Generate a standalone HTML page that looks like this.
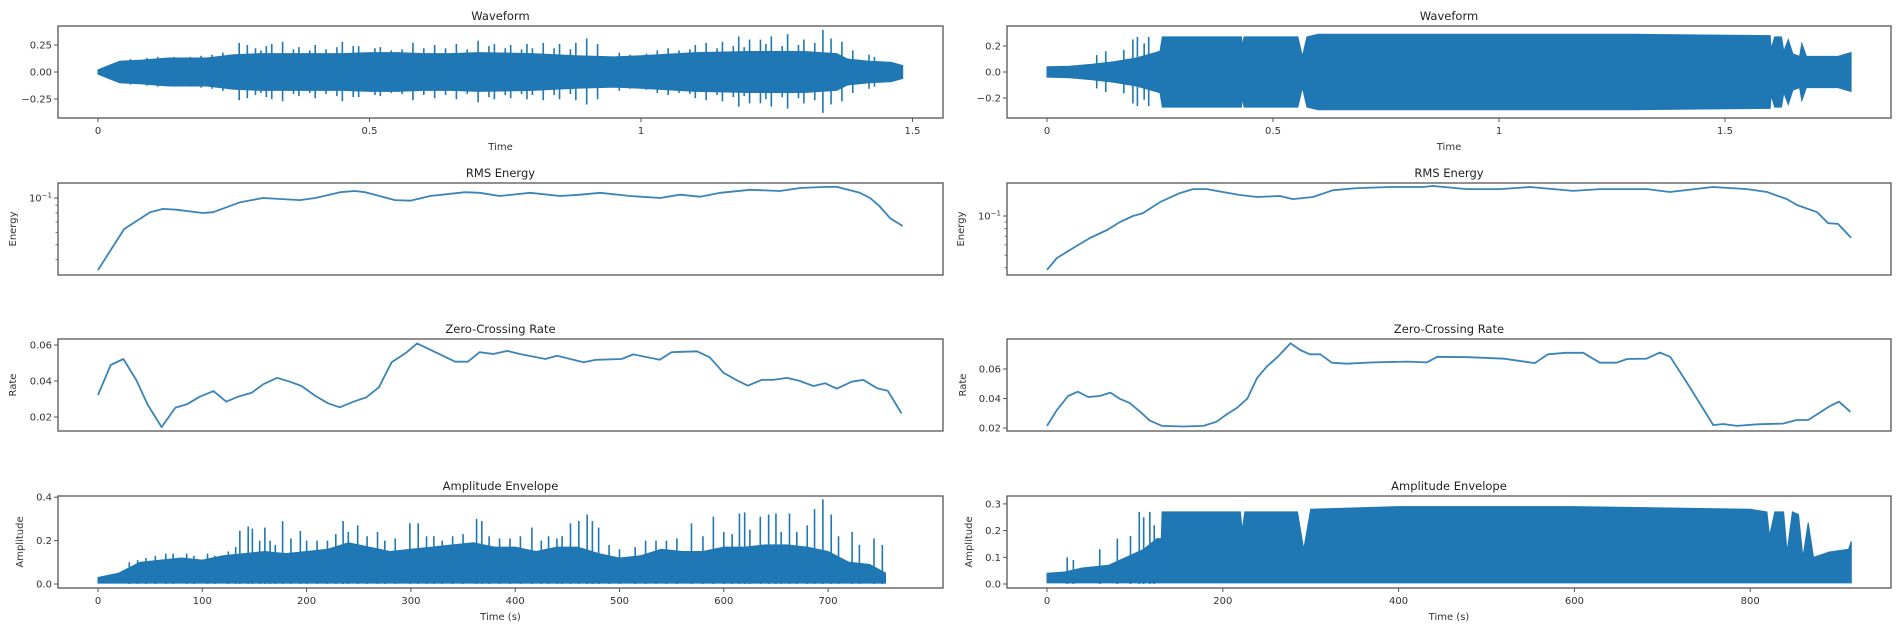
<!DOCTYPE html>
<html><head><meta charset="utf-8">
<style>
html,body{margin:0;padding:0;background:#fff;}
svg{display:block;font-family:"DejaVu Sans","Liberation Sans",sans-serif;}
</style></head>
<body>
<svg id="chart" width="1902" height="633" viewBox="0 0 1902 633" xmlns="http://www.w3.org/2000/svg"></svg>
<script>
// ---------- DATA ----------
const lwBodyT=[0,.02,.04,.08,.13,.2,.25,.3,.35,.4,.45,.5,.55,.6,.65,.7,.8,.88,.95,1.0,1.1,1.2,1.3,1.36,1.38,1.42,1.46,1.482];
const lwBodyV=[.02,.06,.1,.11,.13,.13,.16,.17,.17,.17,.17,.18,.18,.17,.17,.18,.17,.15,.14,.15,.18,.19,.19,.17,.12,.1,.09,.06];
const lwSpikeT=[.26,.275,.29,.31,.34,.37,.40,.45,.48,.52,.58,.62,.66,.70,.73,.76,.79,.82,.85,.88,.90,.92,1.05,1.1,1.12,1.15,1.18,1.2,1.22,1.24,1.27,1.3,1.335,1.35,1.37,1.39,1.42,
 .06,.09,.11,.14,.17,.19,.21,.23,.30,.32,.36,.39,.42,.44,.47,.51,.54,.56,.6,.64,.68,.72,.75,.78,.80,.84,.87,.96,.98,1.01,1.03,1.07,1.09,1.14,1.17,1.19,1.23,1.26,1.29,1.32,1.43];
const lwSpikeV=[.27,.25,.22,.24,.28,.23,.25,.28,.24,.23,.27,.25,.26,.29,.26,.25,.26,.27,.26,.27,.31,.26,.22,.25,.27,.28,.33,.30,.30,.33,.35,.30,.39,.31,.28,.20,.16,
 .12,.13,.14,.14,.14,.15,.16,.18,.2,.26,.21,.2,.21,.23,.24,.22,.2,.21,.22,.22,.21,.24,.22,.21,.22,.22,.21,.18,.16,.17,.2,.2,.21,.22,.24,.23,.26,.24,.25,.27,.14];
const rwBodyT=[0,.05,.1,.15,.2,.23,.25,.255,.43,.432,.436,.555,.565,.575,.6,1.0,1.3,1.6,1.602,1.61,1.625,1.63,1.64,1.65,1.665,1.67,1.68,1.7,1.75,1.779];
const rwBodyV=[.04,.045,.06,.08,.11,.14,.16,.27,.27,.2,.27,.27,.12,.27,.29,.29,.29,.28,.18,.27,.27,.16,.25,.14,.12,.22,.12,.12,.12,.15];
const rwSpikeT=[.11,.13,.17,.19,.2,.215,.225];
const rwSpikeV=[.13,.16,.17,.25,.27,.22,.27];
const lrT=[0,.048,.096,.120,.144,.193,.212,.262,.304,.372,.400,.446,.473,.492,.547,.575,.612,.676,.703,.740,.796,.851,.888,.925,.980,1.035,1.072,1.109,1.146,1.201,1.256,1.293,1.339,1.361,1.403,1.422,1.440,1.459,1.482];
const lrV=[.0343,.063,.081,.085,.084,.080,.081,.094,.100,.097,.100,.109,.111,.109,.097,.096,.103,.109,.108,.103,.108,.103,.105,.108,.103,.100,.105,.102,.108,.113,.111,.116,.118,.118,.108,.100,.088,.074,.066];
const rrT=[0,.022,.058,.095,.133,.162,.190,.212,.250,.294,.323,.354,.389,.427,.465,.515,.544,.588,.633,.686,.759,.832,.854,.929,1.002,1.069,1.164,1.223,1.327,1.378,1.473,1.549,1.593,1.637,1.659,1.704,1.728,1.750,1.779];
const rrV=[.0385,.0475,.0567,.0677,.078,.090,.100,.105,.128,.150,.161,.161,.153,.145,.140,.1425,.135,.140,.158,.164,.167,.167,.170,.161,.161,.167,.156,.161,.161,.153,.167,.161,.153,.135,.1215,.107,.088,.087,.068];
const lzT=[0,12,24,36,47,60,73,84,96,109,121,132,145,156,169,181,192,205,217,228,241,253,265,277,290,301,337,349,360,373,386,398,422,433,458,470,494,505,530,541,565,577,590,602,613,626,637,650,661,675,686,697,711,722,735,745,758];
const lzV=[.0322,.0489,.0522,.0406,.0267,.0144,.0252,.0271,.0313,.0344,.0285,.0313,.0335,.0382,.0418,.0396,.0372,.0317,.0276,.0254,.0285,.0309,.0365,.0504,.0554,.0609,.0507,.0507,.056,.055,.0567,.055,.0522,.054,.0504,.0518,.0522,.0548,.0518,.056,.0565,.0532,.0446,.0406,.0374,.0406,.0406,.0417,.0402,.0372,.0387,.0357,.0396,.0406,.036,.0346,.022];
const rzT=[0,11,24,35,47,60,72,83,94,106,117,131,155,178,193,205,216,228,239,250,262,277,288,299,311,324,341,371,410,432,444,480,520,555,570,590,610,629,648,660,682,697,709,731,758,769,785,808,837,853,866,891,901,914];
const rzV=[.0214,.032,.0417,.0446,.041,.0417,.044,.0397,.037,.031,.025,.0214,.021,.0214,.0243,.0295,.0336,.040,.054,.0616,.068,.0775,.0729,.070,.070,.0643,.0636,.0645,.065,.0645,.0683,.068,.067,.064,.070,.071,.071,.0643,.0643,.0668,.067,.0711,.0683,.048,.022,.0227,.0214,.0225,.023,.0254,.0254,.035,.0378,.031];
const laBodyT=[0,20,40,60,80,100,120,140,160,180,200,220,240,260,280,300,320,340,360,380,400,420,440,460,480,500,520,540,560,580,600,620,640,660,680,700,720,740,755];
const laBodyV=[.03,.05,.1,.11,.12,.11,.13,.14,.15,.14,.15,.16,.19,.17,.15,.16,.17,.18,.19,.17,.17,.15,.17,.17,.14,.12,.13,.16,.15,.15,.17,.17,.18,.18,.17,.15,.10,.09,.05];
const laSpikeT=[136,144,148,177,194,235,249,268,299,307,363,368,416,453,461,469,474,480,569,590,615,620,635,643,650,663,687,695,703,723,744,752,
 30,38,46,55,65,72,85,92,105,112,125,132,155,160,165,170,185,200,210,220,228,240,258,275,285,315,322,330,340,350,375,385,395,405,425,432,440,445,490,500,515,525,535,545,555,580,600,608,625,655,670,680,710,730];
const laSpikeV=[.245,.265,.255,.29,.245,.29,.27,.24,.28,.28,.30,.29,.26,.28,.29,.32,.29,.26,.28,.31,.325,.33,.31,.32,.325,.325,.345,.39,.32,.24,.21,.18,
 .1,.11,.12,.13,.14,.14,.14,.13,.14,.13,.15,.17,.2,.26,.2,.18,.21,.2,.2,.2,.23,.24,.22,.2,.21,.22,.22,.2,.22,.23,.22,.21,.21,.22,.2,.22,.21,.22,.18,.16,.17,.2,.2,.2,.21,.22,.24,.23,.25,.24,.24,.27,.22,.18];
const raBodyT=[0,20,40,70,90,110,125,130,131,220,222,225,285,292,300,400,600,800,819,822,828,838,842,848,855,860,866,872,890,912,915];
const raBodyV=[.04,.045,.06,.07,.1,.13,.17,.17,.27,.27,.2,.27,.27,.13,.28,.29,.29,.28,.27,.18,.27,.27,.12,.27,.26,.1,.23,.1,.12,.13,.16];
const raSpikeT=[23,30,60,80,95,105,110,117,122];
const raSpikeV=[.10,.09,.13,.17,.18,.27,.25,.27,.22];
const lwYTicks=[0.25,0,-0.25], lwYLabels=["0.25","0.00","\u22120.25"];
const rwYTicks=[0.2,0,-0.2], rwYLabels=["0.2","0.0","\u22120.2"];
const wXTicks=[0,0.5,1,1.5], wXLabels=["0","0.5","1","1.5"];
const lzYTicks=[0.06,0.04,0.02], lzYLabels=["0.06","0.04","0.02"];
const rzYTicks=[0.06,0.04,0.02], rzYLabels=["0.06","0.04","0.02"];
const laYTicks=[0.4,0.2,0.0], laYLabels=["0.4","0.2","0.0"];
const raYTicks=[0.3,0.2,0.1,0.0], raYLabels=["0.3","0.2","0.1","0.0"];
const laXTicks=[0,100,200,300,400,500,600,700];
const raXTicks=[0,200,400,600,800];
const logMinor=[0.04,0.05,0.06,0.07,0.08,0.09];

// ---------- DRAWING ----------
const NS="http://www.w3.org/2000/svg";
const svg=document.getElementById('chart');
const BLUE="#1f77b4";
function mk(tag,attrs,parent){const e=document.createElementNS(NS,tag);for(const k in attrs)e.setAttribute(k,attrs[k]);(parent||svg).appendChild(e);return e;}
function txt(x,y,s,anchor,size,parent){const t=mk('text',{x:x,y:y,'text-anchor':anchor||'middle','font-size':size||10,fill:'#333'},parent);t.textContent=s;return t;}
function panel(name,x0,x1,y0,y1){
  const g=mk('g',{});
  
  
  return {g,x0,x1,y0,y1};
}
function frame(p){
  const r=mk('rect',{x:p.x0,y:p.y0,width:p.x1-p.x0,height:p.y1-p.y0,fill:'none',stroke:'#555','stroke-width':1.3},p.g);
  
  
}
function yTicks(p,vals,labels,sy){
  vals.forEach((v,i)=>{const y=sy(v);
    mk('line',{x1:p.x0-4,x2:p.x0,y1:y,y2:y,stroke:'#555','stroke-width':1},p.g);
    const t=txt(p.x0-6,y+3.5,labels[i],'end',10,p.g);
    
    
  });
}
function xTicks(p,vals,labels,sx){
  vals.forEach((v,i)=>{const x=sx(v);
    mk('line',{x1:x,x2:x,y1:p.y1,y2:p.y1+4,stroke:'#555','stroke-width':1},p.g);
    const t=txt(x,p.y1+16,labels[i],'middle',10,p.g);
    
    
  });
}
function title(p,s){const t=txt((p.x0+p.x1)/2,p.y0-6,s,'middle',11.5,p.g);t.setAttribute('fill','#222');
  
  }
function ylab(p,x,s){const cy=(p.y0+p.y1)/2;const t=txt(x,cy,s,'middle',10,p.g);t.setAttribute('transform','rotate(-90 '+x+' '+cy+')');
  
  }
function xlab(p,y,s){const t=txt((p.x0+p.x1)/2,y,s,'middle',10,p.g);
  
  }
function line(p,T,V,sx,sy,name){
  const d=T.map((t,i)=>(i?'L':'M')+sx(t).toFixed(1)+','+sy(V[i]).toFixed(1)).join('');
  const e=mk('path',{d:d,fill:'none',stroke:'#3a84b9','stroke-width':1.8,'stroke-linejoin':'round'},p.g);
  
  
}
function band(p,T,V,sx,sy,sym,name){
  let d='M'+T.map((t,i)=>sx(t).toFixed(1)+','+sy(V[i]).toFixed(1)).join('L');
  for(let i=T.length-1;i>=0;i--){d+='L'+sx(T[i]).toFixed(1)+','+sy(sym?-V[i]:0.004).toFixed(1);}
  d+='Z';
  const e=mk('path',{d:d,fill:BLUE,stroke:BLUE,'stroke-width':1},p.g);
  
  
}
function spikes(p,T,V,sx,sy,sym,name){
  T.forEach((t,i)=>{const x=sx(t);
    const e=mk('line',{x1:x,x2:x,y1:sy(V[i]),y2:sy(sym?-V[i]*0.97:0),stroke:BLUE,'stroke-width':1.6},p.g);
    
    
  });
}
function logLabel(p,y){
  const t=mk('text',{x:p.x0-6,y:y+3.5,'text-anchor':'end','font-size':10,fill:'#333'},p.g);
  
  
  t.appendChild(document.createTextNode('10'));
  const s=mk('tspan',{dy:-4,'font-size':7},t);s.textContent='\u22121';
}

{const p=panel('left-waveform-panel',58,943,26,118);
 const sx=t=>98+t*543, sy=v=>72-v*108;
 band(p,lwBodyT,lwBodyV,sx,sy,true,'waveform-body');
 spikes(p,lwSpikeT,lwSpikeV,sx,sy,true,'waveform-spike');
 frame(p);yTicks(p,lwYTicks,lwYLabels,sy);xTicks(p,wXTicks,wXLabels,sx);
 title(p,'Waveform');xlab(p,150,'Time');}
{const p=panel('right-waveform-panel',1007,1891,26,118);
 const sx=t=>1047+t*452, sy=v=>72-v*130;
 band(p,rwBodyT,rwBodyV,sx,sy,true,'waveform-body');
 spikes(p,rwSpikeT,rwSpikeV,sx,sy,true,'waveform-spike');
 frame(p);yTicks(p,rwYTicks,rwYLabels,sy);xTicks(p,wXTicks,wXLabels,sx);
 title(p,'Waveform');xlab(p,150,'Time');}
{const p=panel('left-rms-panel',58,943,183,275);
 const sx=t=>98+t*543, sy=v=>198-155*(Math.log10(v)+1);
 line(p,lrT,lrV,sx,sy,'rms-line');frame(p);
 mk('line',{x1:p.x0-4,x2:p.x0,y1:sy(0.1),y2:sy(0.1),stroke:'#555'},p.g);logLabel(p,sy(0.1));
 logMinor.forEach(v=>mk('line',{x1:p.x0-2.5,x2:p.x0,y1:sy(v),y2:sy(v),stroke:'#555','stroke-width':.8},p.g));
 title(p,'RMS Energy');ylab(p,16,'Energy');}
{const p=panel('right-rms-panel',1007,1891,183,275);
 const sx=t=>1047+t*452, sy=v=>216-130*(Math.log10(v)+1);
 line(p,rrT,rrV,sx,sy,'rms-line');frame(p);
 mk('line',{x1:p.x0-4,x2:p.x0,y1:sy(0.1),y2:sy(0.1),stroke:'#555'},p.g);logLabel(p,sy(0.1));
 logMinor.forEach(v=>mk('line',{x1:p.x0-2.5,x2:p.x0,y1:sy(v),y2:sy(v),stroke:'#555','stroke-width':.8},p.g));
 title(p,'RMS Energy');ylab(p,964,'Energy');}
{const p=panel('left-zcr-panel',58,943,339,431);
 const sx=t=>98+t*1.06, sy=v=>417-(v-0.02)*1800;
 line(p,lzT,lzV,sx,sy,'zcr-line');frame(p);yTicks(p,lzYTicks,lzYLabels,sy);
 title(p,'Zero-Crossing Rate');ylab(p,16,'Rate');}
{const p=panel('right-zcr-panel',1007,1891,339,431);
 const sx=t=>1047+t*0.879, sy=v=>428-(v-0.02)*1475;
 line(p,rzT,rzV,sx,sy,'zcr-line');frame(p);yTicks(p,rzYTicks,rzYLabels,sy);
 title(p,'Zero-Crossing Rate');ylab(p,966,'Rate');}
{const p=panel('left-amplitude-panel',58,943,496,588);
 const sx=t=>98+t*1.043, sy=v=>584-v*217;
 band(p,laBodyT,laBodyV,sx,sy,false,'envelope-body');
 spikes(p,laSpikeT,laSpikeV,sx,sy,false,'envelope-spike');
 frame(p);yTicks(p,laYTicks,laYLabels,sy);xTicks(p,laXTicks,laXTicks.map(String),sx);
 title(p,'Amplitude Envelope');ylab(p,23,'Amplitude');xlab(p,620,'Time (s)');}
{const p=panel('right-amplitude-panel',1007,1891,496,588);
 const sx=t=>1047+t*0.879, sy=v=>584-v*267;
 band(p,raBodyT,raBodyV,sx,sy,false,'envelope-body');
 spikes(p,raSpikeT,raSpikeV,sx,sy,false,'envelope-spike');
 frame(p);yTicks(p,raYTicks,raYLabels,sy);xTicks(p,raXTicks,raXTicks.map(String),sx);
 title(p,'Amplitude Envelope');ylab(p,972,'Amplitude');xlab(p,620,'Time (s)');}
</script>
</body></html>
